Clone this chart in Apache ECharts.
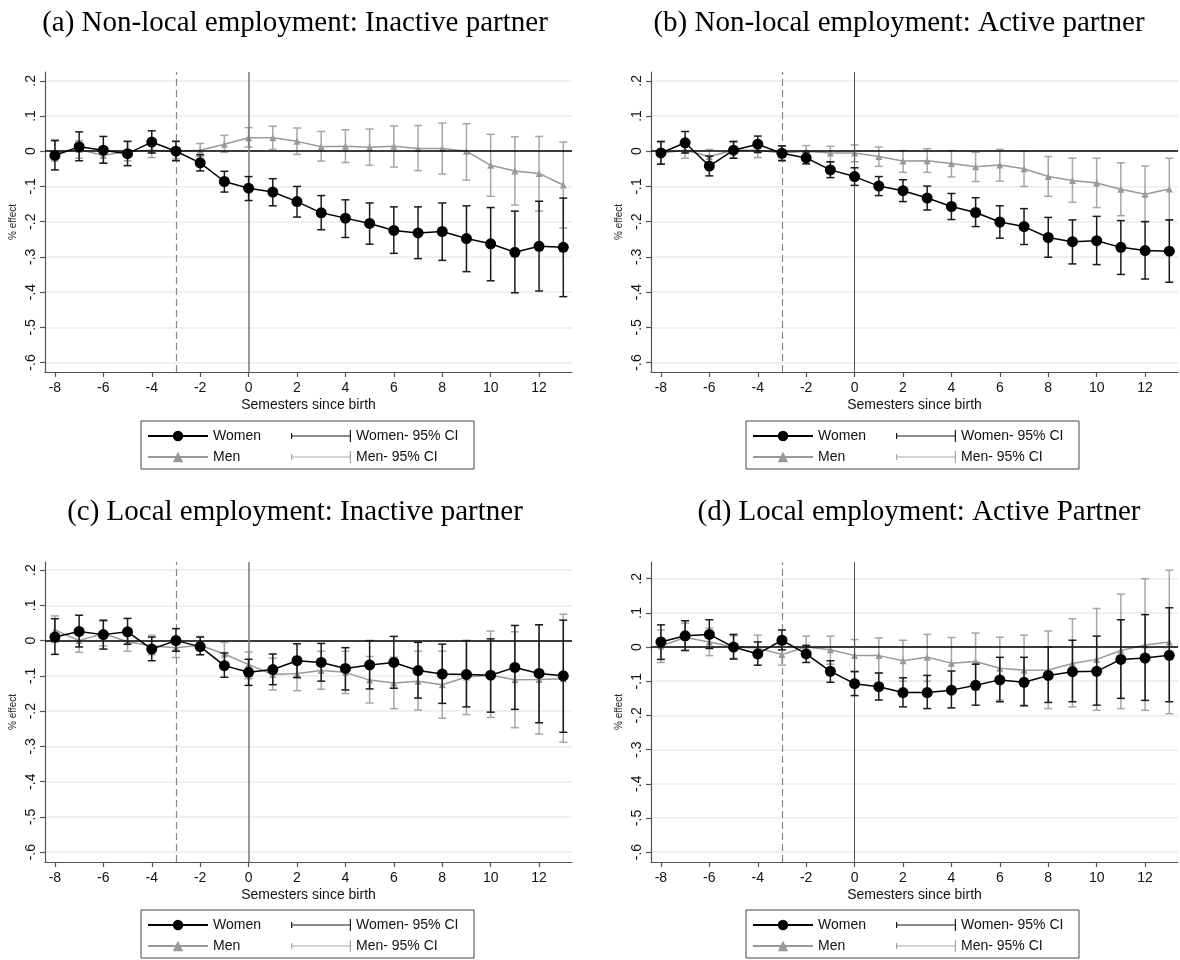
<!DOCTYPE html>
<html>
<head>
<meta charset="utf-8">
<script src="https://cdn.jsdelivr.net/npm/echarts@6/dist/echarts.min.js"></script>
<style>
html,body{margin:0;padding:0;background:#fff;}
#chart{width:1180px;height:960px;}
</style>
</head>
<body>
<div id="chart"></div>
<script>
// ---- data ----
const semesters = [-8,-7,-6,-5,-4,-3,-2,-1,0,1,2,3,4,5,6,7,8,9,10,11,12,13];
const xTicks = [-8,-6,-4,-2,0,2,4,6,8,10,12];
const yTicks = [-0.6,-0.5,-0.4,-0.3,-0.2,-0.1,0,0.1,0.2];
const yTickLabels = ['-.6','-.5','-.4','-.3','-.2','-.1','0','.1','.2'];
const panelTitles = [
  '(a) Non-local employment: Inactive partner',
  '(b) Non-local employment: Active partner',
  '(c) Local employment: Inactive partner',
  '(d) Local employment: Active Partner'
];
const seriesNames = ['Women','Women- 95% CI','Men','Men- 95% CI'];

// panel (a)
const womenA   = [-0.012,0.013,0.003,-0.007,0.026,0.000,-0.033,-0.086,-0.105,-0.116,-0.143,-0.175,-0.190,-0.205,-0.225,-0.232,-0.228,-0.248,-0.263,-0.287,-0.270,-0.273];
const womenALo = [-0.053,-0.027,-0.034,-0.041,-0.005,-0.027,-0.056,-0.116,-0.140,-0.155,-0.187,-0.223,-0.245,-0.264,-0.290,-0.305,-0.310,-0.342,-0.368,-0.402,-0.397,-0.413];
const womenAHi = [0.030,0.055,0.042,0.028,0.058,0.028,-0.010,-0.057,-0.072,-0.078,-0.100,-0.126,-0.138,-0.147,-0.158,-0.158,-0.147,-0.155,-0.160,-0.170,-0.142,-0.133];
const menA     = [-0.005,0.005,-0.012,0.000,0.003,0.000,0.003,0.020,0.038,0.038,0.028,0.013,0.014,0.011,0.014,0.008,0.008,0.000,-0.040,-0.056,-0.063,-0.096];
const menALo   = [-0.028,-0.020,-0.034,-0.027,-0.018,-0.022,-0.015,-0.003,0.012,0.005,-0.009,-0.028,-0.032,-0.040,-0.045,-0.055,-0.065,-0.082,-0.128,-0.153,-0.170,-0.218];
const menAHi   = [0.033,0.030,0.010,0.028,0.024,0.028,0.022,0.045,0.067,0.071,0.066,0.056,0.061,0.063,0.072,0.073,0.080,0.078,0.048,0.041,0.042,0.026];

// panel (b)
const womenB   = [-0.005,0.024,-0.042,0.003,0.020,-0.006,-0.019,-0.053,-0.072,-0.099,-0.112,-0.133,-0.157,-0.174,-0.201,-0.214,-0.245,-0.257,-0.254,-0.273,-0.282,-0.284];
const womenBLo = [-0.037,-0.005,-0.070,-0.020,-0.003,-0.027,-0.036,-0.075,-0.097,-0.126,-0.143,-0.167,-0.194,-0.214,-0.247,-0.265,-0.301,-0.320,-0.322,-0.350,-0.363,-0.372];
const womenBHi = [0.028,0.056,-0.014,0.028,0.043,0.015,-0.002,-0.030,-0.047,-0.072,-0.081,-0.099,-0.120,-0.132,-0.155,-0.163,-0.188,-0.195,-0.185,-0.197,-0.200,-0.195];
const menB     = [-0.005,0.003,-0.015,0.003,0.003,-0.005,0.000,-0.005,-0.005,-0.015,-0.028,-0.027,-0.035,-0.044,-0.039,-0.050,-0.072,-0.083,-0.090,-0.108,-0.122,-0.107];
const menBLo   = [-0.035,-0.020,-0.035,-0.020,-0.018,-0.025,-0.018,-0.030,-0.030,-0.043,-0.060,-0.060,-0.073,-0.086,-0.085,-0.100,-0.128,-0.145,-0.160,-0.183,-0.200,-0.195];
const menBHi   = [0.025,0.025,0.005,0.025,0.020,0.015,0.016,0.014,0.018,0.012,0.002,0.007,0.002,-0.003,0.005,0.000,-0.015,-0.020,-0.020,-0.033,-0.042,-0.020];

// panel (c)
const womenC   = [0.010,0.026,0.017,0.025,-0.024,0.000,-0.017,-0.071,-0.090,-0.082,-0.057,-0.062,-0.079,-0.069,-0.062,-0.085,-0.095,-0.096,-0.098,-0.076,-0.093,-0.100];
const womenCLo = [-0.039,-0.018,-0.024,-0.010,-0.057,-0.030,-0.040,-0.104,-0.127,-0.125,-0.105,-0.115,-0.140,-0.137,-0.135,-0.163,-0.178,-0.188,-0.203,-0.195,-0.233,-0.260];
const womenCHi = [0.062,0.072,0.058,0.063,0.010,0.034,0.010,-0.035,-0.053,-0.038,-0.009,-0.008,-0.020,0.000,0.012,-0.005,-0.010,0.000,0.005,0.043,0.045,0.058];
const menC     = [0.030,0.000,0.020,-0.003,-0.015,-0.020,-0.013,-0.038,-0.068,-0.096,-0.093,-0.085,-0.090,-0.112,-0.120,-0.115,-0.125,-0.103,-0.098,-0.111,-0.110,-0.108];
const menCLo   = [-0.005,-0.033,-0.015,-0.030,-0.040,-0.048,-0.040,-0.070,-0.108,-0.140,-0.142,-0.138,-0.150,-0.177,-0.193,-0.197,-0.220,-0.210,-0.218,-0.247,-0.265,-0.288];
const menCHi   = [0.070,0.030,0.055,0.025,0.015,0.010,0.012,-0.005,-0.032,-0.050,-0.045,-0.030,-0.030,-0.045,-0.047,-0.030,-0.030,0.000,0.027,0.025,0.045,0.075];

// panel (d)
const womenD   = [0.015,0.033,0.037,0.000,-0.020,0.020,-0.020,-0.071,-0.107,-0.116,-0.133,-0.133,-0.126,-0.112,-0.096,-0.103,-0.083,-0.072,-0.071,-0.036,-0.032,-0.024];
const womenDLo = [-0.036,-0.010,-0.004,-0.035,-0.053,-0.008,-0.045,-0.103,-0.142,-0.155,-0.175,-0.180,-0.178,-0.170,-0.160,-0.172,-0.162,-0.160,-0.170,-0.150,-0.156,-0.160];
const womenDHi = [0.065,0.077,0.080,0.037,0.015,0.050,0.005,-0.040,-0.072,-0.076,-0.090,-0.083,-0.070,-0.050,-0.030,-0.030,0.000,0.020,0.032,0.080,0.095,0.115];
const menD     = [0.003,0.028,0.015,0.000,-0.003,-0.022,0.000,-0.008,-0.025,-0.025,-0.040,-0.030,-0.047,-0.042,-0.062,-0.068,-0.067,-0.048,-0.036,-0.010,0.006,0.015];
const menDLo   = [-0.045,-0.010,-0.025,-0.033,-0.030,-0.053,-0.030,-0.050,-0.070,-0.075,-0.100,-0.100,-0.120,-0.125,-0.155,-0.170,-0.180,-0.175,-0.185,-0.180,-0.185,-0.195];
const menDHi   = [0.050,0.070,0.055,0.033,0.035,0.010,0.032,0.032,0.022,0.027,0.020,0.037,0.028,0.041,0.029,0.035,0.047,0.083,0.113,0.155,0.200,0.225];

const panelData = [
  {women: womenA, wLo: womenALo, wHi: womenAHi, men: menA, mLo: menALo, mHi: menAHi},
  {women: womenB, wLo: womenBLo, wHi: womenBHi, men: menB, mLo: menBLo, mHi: menBHi},
  {women: womenC, wLo: womenCLo, wHi: womenCHi, men: menC, mLo: menCLo, mHi: menCHi},
  {women: womenD, wLo: womenDLo, wHi: womenDHi, men: menD, mLo: menDLo, mHi: menDHi}
];

// ---- layout / style ----
const layout = [
  {left: 45,  top: 72,  titleX: 290, titleY: 4,   legendLeft: 141, legendTop: 421, yMin: -0.627, yMax: 0.225, zeroLine: '#777', zeroW: 1.5},
  {left: 651, top: 72,  titleX: 894, titleY: 4,   legendLeft: 746, legendTop: 421, yMin: -0.627, yMax: 0.225, zeroLine: '#555', zeroW: 1},
  {left: 45,  top: 562, titleX: 290, titleY: 493, legendLeft: 141, legendTop: 910, yMin: -0.628, yMax: 0.223, zeroLine: '#777', zeroW: 1.5},
  {left: 651, top: 562, titleX: 914, titleY: 493, legendLeft: 746, legendTop: 910, yMin: -0.629, yMax: 0.249, zeroLine: '#555', zeroW: 1}
];
const PW = 527, PH = 300;
const XMIN = -8.41, XMAX = 13.36;
const WOMEN_COLOR = '#000', WOMEN_CI = '#1a1a1a', MEN_COLOR = '#999', MEN_CI = '#a6a6a6';
const SANS = '"Liberation Sans", Arial, sans-serif';
const SERIF = '"Liberation Serif", "Times New Roman", serif';
const CI_ICON = 'path://M0,3 L1.2,3 L1.2,5.4 L58.8,5.4 L58.8,0 L60,0 L60,12 L58.8,12 L58.8,6.6 L1.2,6.6 L1.2,9 L0,9 Z';

function errorBarRenderer(color) {
  return function (params, api) {
    const x = api.value(0), lo = api.value(1), hi = api.value(2);
    const p1 = api.coord([x, hi]);
    const p2 = api.coord([x, lo]);
    const w = 4;
    const st = {stroke: color, lineWidth: 1.5};
    return {
      type: 'group',
      children: [
        {type: 'line', shape: {x1: p1[0], y1: p1[1], x2: p2[0], y2: p2[1]}, style: st},
        {type: 'line', shape: {x1: p1[0] - w, y1: p1[1], x2: p1[0] + w, y2: p1[1]}, style: st},
        {type: 'line', shape: {x1: p2[0] - w, y1: p2[1], x2: p2[0] + w, y2: p2[1]}, style: st}
      ]
    };
  };
}

const grid = [], xAxis = [], yAxis = [], series = [], title = [], legend = [];

panelData.forEach((d, i) => {
  const L = layout[i];
  grid.push({left: L.left, top: L.top, width: PW, height: PH, containLabel: false});
  title.push({
    text: panelTitles[i], left: L.titleX, top: L.titleY, textAlign: 'center',
    textStyle: {fontFamily: SERIF, fontSize: 29, fontWeight: 'normal', color: '#000'}
  });
  xAxis.push({
    type: 'value', gridIndex: i, min: XMIN, max: XMAX,
    name: 'Semesters since birth', nameLocation: 'middle', nameGap: 26,
    nameTextStyle: {fontFamily: SANS, fontSize: 14, color: '#111'},
    axisLine: {show: true, onZero: false, lineStyle: {color: '#555', width: 1.2}},
    axisTick: {show: true, length: 5, customValues: xTicks, lineStyle: {color: '#555', width: 1.2}},
    axisLabel: {customValues: xTicks, fontFamily: SANS, fontSize: 14, color: '#111', margin: 9},
    splitLine: {show: false}
  });
  yAxis.push({
    type: 'value', gridIndex: i, min: L.yMin, max: L.yMax,
    name: '% effect', nameLocation: 'middle', nameGap: 27, nameRotate: 90,
    nameTextStyle: {fontFamily: SANS, fontSize: 10, color: '#222'},
    axisLine: {show: true, onZero: false, lineStyle: {color: '#555', width: 1.2}},
    axisTick: {show: true, length: 5, customValues: yTicks, lineStyle: {color: '#555', width: 1.2}},
    axisLabel: {
      customValues: yTicks, rotate: 90, fontFamily: SANS, fontSize: 14, color: '#111', margin: 7,
      formatter: v => {
        const k = yTicks.findIndex(t => Math.abs(t - v) < 1e-6);
        return k >= 0 ? yTickLabels[k] : '';
      }
    },
    splitLine: {show: true, lineStyle: {color: '#ebebeb', width: 1.5}}
  });

  series.push({
    name: 'Men- 95% CI', type: 'custom', xAxisIndex: i, yAxisIndex: i, z: 3,
    itemStyle: {color: MEN_CI},
    renderItem: errorBarRenderer(MEN_CI), clip: false,
    encode: {x: 0, y: [1, 2]},
    data: semesters.map((s, k) => [s, d.mLo[k], d.mHi[k]]),
    markLine: {
      silent: true, symbol: 'none', label: {show: false},
      data: [
        {yAxis: 0, lineStyle: {color: '#000', width: 1.5, type: 'solid'}},
        {xAxis: 0, lineStyle: {color: L.zeroLine, width: L.zeroW, type: 'solid'}},
        {xAxis: -3, lineStyle: {color: '#888', width: 1.2, type: [7, 4]}}
      ]
    }
  });
  series.push({
    name: 'Men', type: 'line', xAxisIndex: i, yAxisIndex: i, z: 4,
    data: semesters.map((s, k) => [s, d.men[k]]),
    symbol: 'triangle', symbolSize: 7, showSymbol: true,
    lineStyle: {color: MEN_COLOR, width: 1.5},
    itemStyle: {color: MEN_COLOR}
  });
  series.push({
    name: 'Women- 95% CI', type: 'custom', xAxisIndex: i, yAxisIndex: i, z: 5,
    itemStyle: {color: WOMEN_CI},
    renderItem: errorBarRenderer(WOMEN_CI), clip: false,
    encode: {x: 0, y: [1, 2]},
    data: semesters.map((s, k) => [s, d.wLo[k], d.wHi[k]])
  });
  series.push({
    name: 'Women', type: 'line', xAxisIndex: i, yAxisIndex: i, z: 6,
    data: semesters.map((s, k) => [s, d.women[k]]),
    symbol: 'circle', symbolSize: 11, showSymbol: true,
    lineStyle: {color: WOMEN_COLOR, width: 1.5},
    itemStyle: {color: WOMEN_COLOR}
  });

  legend.push({
    left: L.legendLeft, top: L.legendTop, width: 322,
    orient: 'horizontal', itemGap: 7, itemWidth: 60, itemHeight: 13,
    padding: [8, 8, 5, 6], borderColor: '#444', borderWidth: 1, backgroundColor: '#fff',
    selectedMode: false,
    textStyle: {fontFamily: SANS, fontSize: 14, color: '#111', lineHeight: 14},
    data: [
      {name: 'Women', textStyle: {width: 71}},
      {name: 'Women- 95% CI', icon: CI_ICON, textStyle: {width: 110}},
      {name: 'Men', textStyle: {width: 71}},
      {name: 'Men- 95% CI', icon: CI_ICON, textStyle: {width: 110}}
    ]
  });
});

const chart = echarts.init(document.getElementById('chart'), null, {renderer: 'canvas'});
chart.setOption({
  backgroundColor: '#fff',
  animation: false,
  title, grid, xAxis, yAxis, legend, series
});
</script>
</body>
</html>
